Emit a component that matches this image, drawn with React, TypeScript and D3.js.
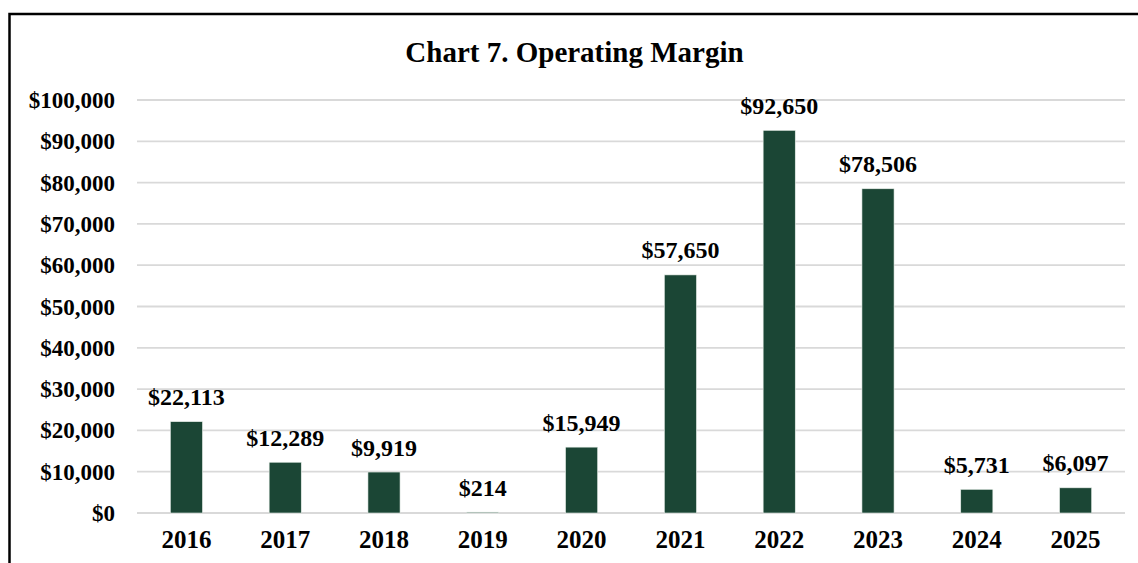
import React from "react";
import * as d3 from "d3";

const years = ["2016", "2017", "2018", "2019", "2020", "2021", "2022", "2023", "2024", "2025"];
const margins = [22113, 12289, 9919, 214, 15949, 57650, 92650, 78506, 5731, 6097];
const yTicks = [0, 10000, 20000, 30000, 40000, 50000, 60000, 70000, 80000, 90000, 100000];
const title = "Chart 7. Operating Margin";

const W = 1138;
const H = 563;
const plot = { left: 137, right: 1125, top: 100, bottom: 513 };
const FONT = "'Liberation Serif', 'Times New Roman', serif";
const BAR = "#1b4635";

export default function App() {
  const x = d3.scaleBand<string>().domain(years).range([plot.left, plot.right]).paddingInner(0.675).paddingOuter(0.3375);
  const y = d3.scaleLinear().domain([0, 100000]).range([plot.bottom, plot.top]);
  const money = (v: number) => "$" + d3.format(",")(v);

  return (
    <svg width={W} height={H} style={{ position: "absolute", left: 0, top: 0, background: "#fff" }}>
      <rect x={9.5} y={14} width={1140} height={600} fill="#fff" stroke="#000" strokeWidth={2.5} />
      <text x={574.5} y={62} textAnchor="middle" fontFamily={FONT} fontWeight="bold" fontSize={29}>
        {title}
      </text>
      {yTicks.map((t) => (
        <g key={t}>
          <line x1={plot.left} x2={plot.right} y1={y(t)} y2={y(t)} stroke="#d9d9d9" strokeWidth={1.8} />
          <text x={115} y={y(t)} dy="0.35em" textAnchor="end" fontFamily={FONT} fontWeight="bold" fontSize={23}>
            {money(t)}
          </text>
        </g>
      ))}
      {years.map((yr, i) => {
        const bx = x(yr)!;
        const v = margins[i];
        const top = y(v);
        return (
          <g key={yr}>
            <rect x={bx} y={top} width={x.bandwidth()} height={y(0) - top} fill={BAR} stroke="#e8efe9" strokeWidth={0.6} />
            <text x={bx + x.bandwidth() / 2} y={top - 16.5} textAnchor="middle" fontFamily={FONT} fontWeight="bold" fontSize={24}>
              {money(v)}
            </text>
            <text x={bx + x.bandwidth() / 2} y={548} textAnchor="middle" fontFamily={FONT} fontWeight="bold" fontSize={25}>
              {yr}
            </text>
          </g>
        );
      })}
    </svg>
  );
}
